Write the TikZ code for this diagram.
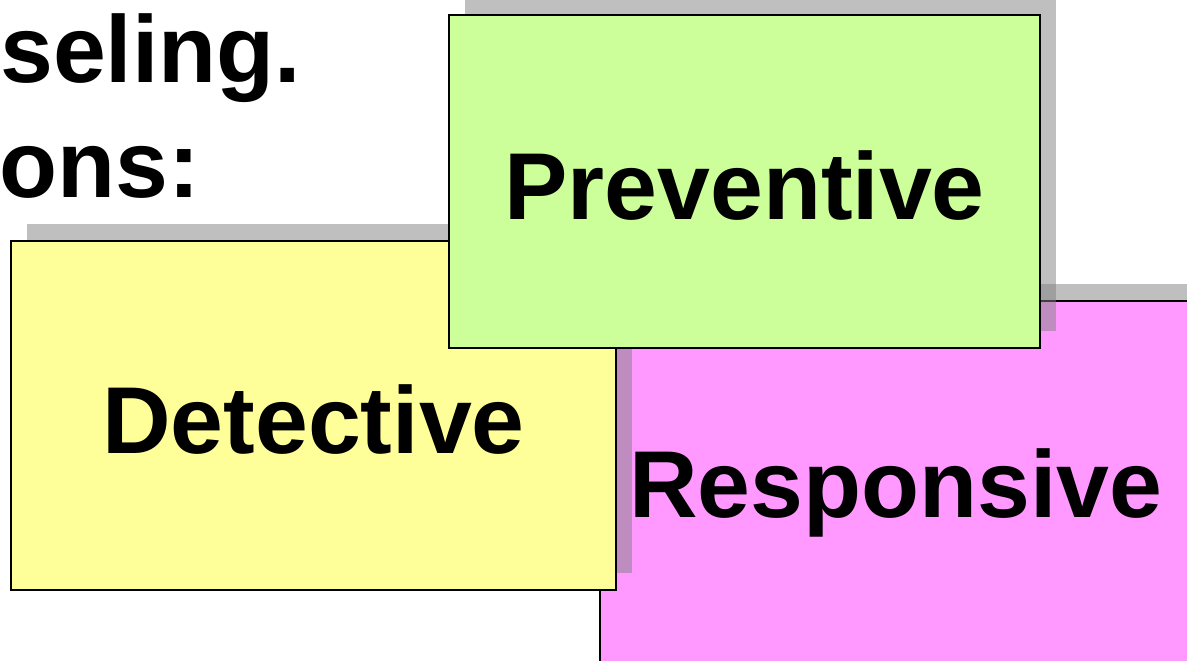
\documentclass[tikz,border=0pt]{standalone}
\usepackage{fontspec}
\setmainfont{Liberation Sans}
\usepackage{tikz, xcolor}
\usetikzlibrary{shapes,shadows}
\definecolor{boxyellow}{HTML}{FFFF99}
\definecolor{boxgreen}{HTML}{CCFF99}
\definecolor{boxpink}{HTML}{FF99FF}
\begin{document}
\begin{tikzpicture}[x=1pt, y=-1pt]
\tikzstyle{vertexr}=[rectangle, draw=black, line width=2.5pt, inner sep=0pt, text height=76pt, font=\fontsize{95}{114}\selectfont\bfseries,
  general shadow={fill=gray, opacity=0.5, shadow xshift=16pt, shadow yshift=17pt}]
\tikzstyle{textstyle}=[anchor=base west, inner sep=0pt, font=\fontsize{95}{114}\selectfont\bfseries]

\useasboundingbox (0,0) rectangle (1187,661);
\clip (0,0) rectangle (1187,661);

\node[textstyle] (T0) at (0,83) {seling.};
\node[textstyle] (T1) at (-1,197) {ons:};

\node[vertexr, fill=boxpink, minimum width=592pt, minimum height=376pt] (R0) at (896,489) {Responsive};
\node[vertexr, fill=boxyellow, minimum width=605pt, minimum height=349pt] (D0) at (313.5,415.5) {Detective};
\node[vertexr, fill=boxgreen, minimum width=591pt, minimum height=333pt] (P0) at (744.5,181.5) {Preventive};
\end{tikzpicture}
\end{document}
